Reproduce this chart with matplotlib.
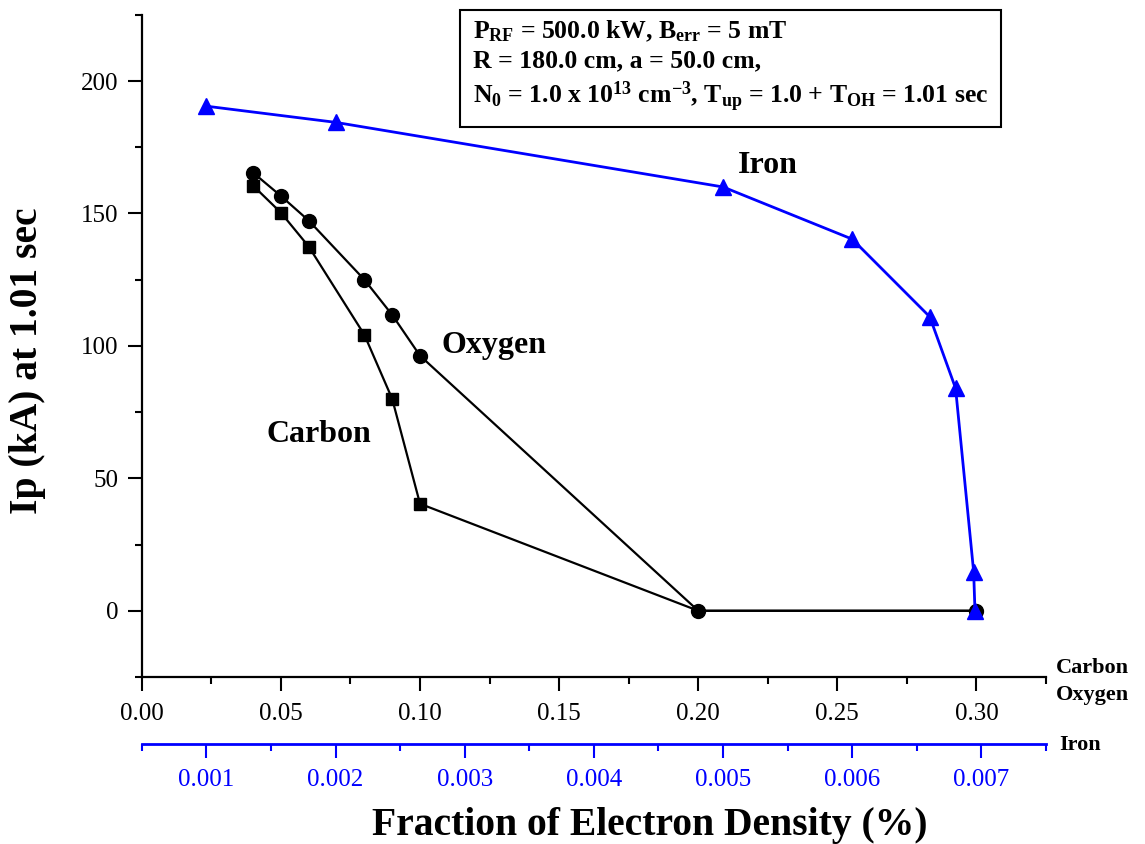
import numpy as np
import matplotlib
matplotlib.use("Agg")
import matplotlib.pyplot as plt
from matplotlib.ticker import MultipleLocator, FormatStrFormatter

plt.rcParams['font.family'] = ['Liberation Serif', 'DejaVu Serif']
plt.rcParams['mathtext.fontset'] = 'custom'
plt.rcParams['mathtext.rm'] = 'Liberation Serif:bold'
plt.rcParams['mathtext.it'] = 'Liberation Serif:bold'
plt.rcParams['mathtext.bf'] = 'Liberation Serif:bold'

# Carbon / Oxygen share the lower black axis (fraction in %)
carbon_x = [0.04, 0.05, 0.06, 0.08, 0.09, 0.10, 0.20, 0.30]
carbon_ip = [160.5, 150.3, 137.5, 104.2, 80.0, 40.4, 0.0, 0.0]
oxygen_x = [0.04, 0.05, 0.06, 0.08, 0.09, 0.10, 0.20, 0.30]
oxygen_ip = [165.4, 156.6, 147.3, 125.0, 111.7, 96.3, 0.0, 0.0]

# Iron uses the blue axis
iron_x = [0.001, 0.002, 0.005, 0.006, 0.0066, 0.0068, 0.00694, 0.00695]
iron_ip = [190.5, 184.4, 160.0, 140.3, 111.0, 84.0, 14.7, 0.0]

BLUE = '#0000ff'
W, H = 1145, 844

fig = plt.figure(figsize=(11.45, 8.44), dpi=100)
ax = fig.add_axes([141.8 / W, 1 - 677 / H, 904.2 / W, (677 - 14.8) / H])

# the shared zero points only show the oxygen circle
ax.plot(carbon_x, carbon_ip, '-', color='black', lw=1.6, marker='s', ms=9,
        markevery=slice(0, 6), zorder=3)
ax.plot(oxygen_x, oxygen_ip, '-', color='black', lw=1.6, marker='o', ms=10, zorder=3)

ax.set_xlim(0, 0.325)
ax.set_ylim(-25, 225)
ax.xaxis.set_major_locator(MultipleLocator(0.05))
ax.xaxis.set_minor_locator(MultipleLocator(0.025))
ax.xaxis.set_major_formatter(FormatStrFormatter('%.2f'))
ax.yaxis.set_major_locator(MultipleLocator(50))
ax.yaxis.set_minor_locator(MultipleLocator(25))
for s in ['top', 'right']:
    ax.spines[s].set_visible(False)
for s in ['left', 'bottom']:
    ax.spines[s].set_linewidth(1.6)
ax.tick_params(which='major', length=10, width=1.5, labelsize=18, pad=7)
ax.tick_params(axis='x', which='major', pad=9)
ax.tick_params(which='minor', length=5, width=1.5)

# Iron axis, offset below the main one
ax2 = ax.twiny()
ax2.plot(iron_x, iron_ip, '-', color=BLUE, lw=2, marker='^', ms=11, zorder=4)
ax2.set_xlim(0.0005, 0.0075)
ax2.xaxis.set_ticks_position('bottom')
ax2.xaxis.set_label_position('bottom')
ax2.spines['bottom'].set_position(('outward', 48))
for s in ['top', 'right', 'left']:
    ax2.spines[s].set_visible(False)
ax2.spines['bottom'].set_color(BLUE)
ax2.spines['bottom'].set_linewidth(2)
ax2.xaxis.set_major_locator(MultipleLocator(0.001))
ax2.xaxis.set_minor_locator(MultipleLocator(0.0005))
ax2.xaxis.set_major_formatter(FormatStrFormatter('%.3f'))
ax2.tick_params(which='major', length=10, width=1.5, color=BLUE,
                labelcolor=BLUE, labelsize=18, pad=8)
ax2.tick_params(which='minor', length=5, width=1.5, color=BLUE)

# curve labels
ax.text(0.1076, 97.5, 'Oxygen', fontsize=23, fontweight='bold', va='baseline', ha='left')
ax.text(0.0449, 63.6, 'Carbon', fontsize=23, fontweight='bold', va='baseline', ha='left')
ax.text(0.2144, 165.4, 'Iron', fontsize=23, fontweight='bold', va='baseline', ha='left')

# axis end labels
fig.text(1056 / W, 1 - 673 / H, 'Carbon', fontsize=16, fontweight='bold', va='baseline')
fig.text(1056 / W, 1 - 700 / H, 'Oxygen', fontsize=16, fontweight='bold', va='baseline')
fig.text(1059 / W, 1 - 750 / H, 'Iron', fontsize=16, fontweight='bold', va='baseline')

fig.text(650 / W, 1 - 826 / H, 'Fraction of Electron Density (%)',
         fontsize=28.5, fontweight='bold', ha='center', va='center')
fig.text(28 / W, 1 - 361 / H, 'Ip (kA) at 1.01 sec', fontsize=28.5,
         fontweight='bold', ha='center', va='center', rotation=90)

info = ('P$_{RF}$ = 500.0 kW, B$_{err}$ = 5 mT\n'
        'R = 180.0 cm, a = 50.0 cm,\n'
        'N$_0$ = 1.0 x 10$^{13}$ cm$^{-3}$, T$_{up}$ = 1.0 + T$_{OH}$ = 1.01 sec')
fig.text(473 / W, 1 - 66 / H, info, fontsize=18.5, fontweight='bold',
         ha='left', va='center', linespacing=1.3,
         bbox=dict(boxstyle='square,pad=0.5', fc='white', ec='black', lw=1.5))

fig.savefig('out.png', dpi=100)
